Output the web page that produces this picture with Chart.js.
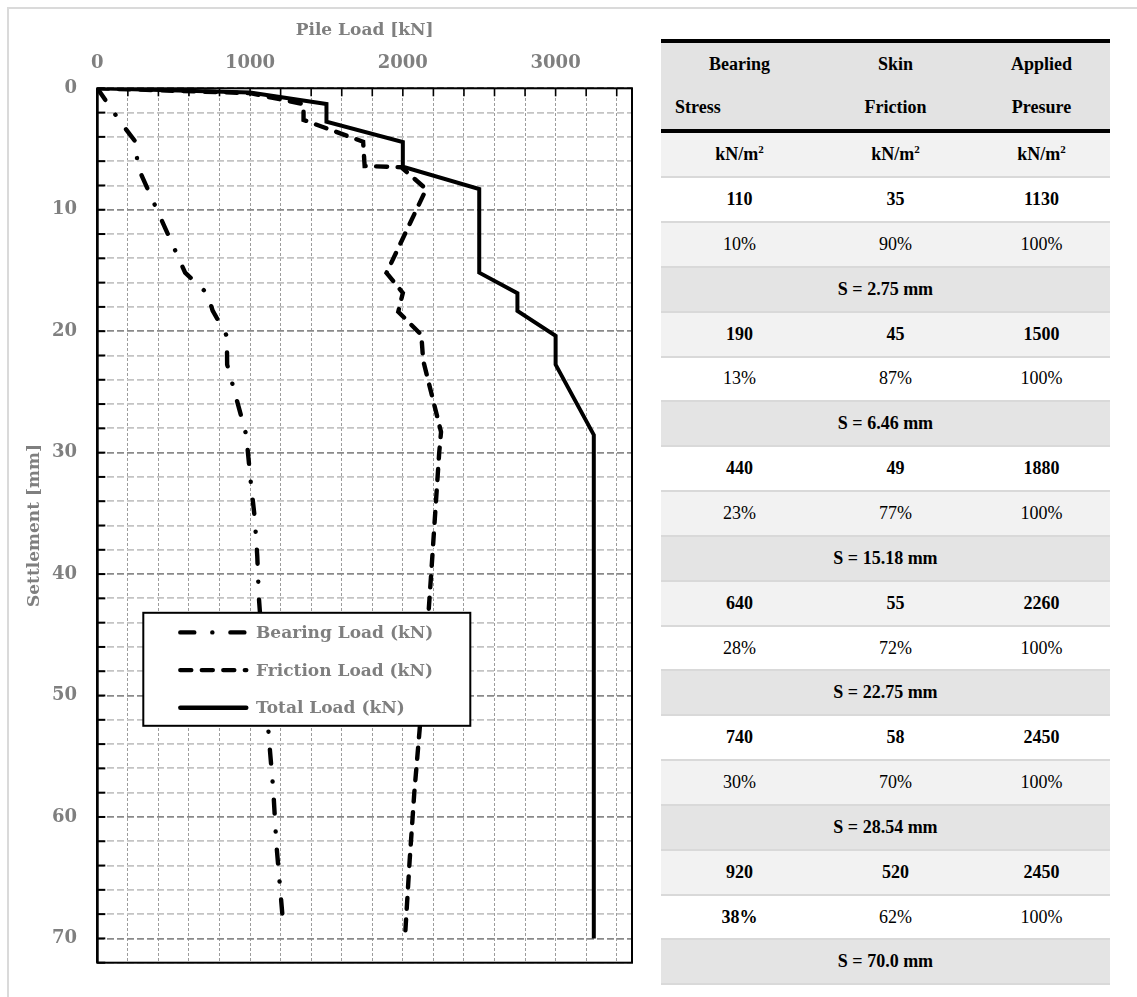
<!DOCTYPE html>
<html>
<head>
<meta charset="utf-8">
<title>Pile Load vs Settlement</title>
<script src="https://cdn.jsdelivr.net/npm/chart.js@4.4.1/dist/chart.umd.min.js"></script>
<style>
    html, body { margin: 0; padding: 0; background: #ffffff; }
    body { position: relative; width: 1137px; height: 997px; overflow: hidden; }
    #frame { position: absolute; left: 7px; top: 7px; width: 1130px; height: 990px; box-sizing: border-box;
             border-top: 2px solid #dadada; border-left: 2px solid #dadada; }
    #chartWrap { position: absolute; left: 0; top: 0; width: 660px; height: 997px; }
    #pileChart { display: block; }
    #loadTable { position: absolute; left: 661px; top: 39.3px; width: 449px;
                 font-family: 'Liberation Serif', 'Times New Roman', serif; font-size: 18px; color: #000; }
    .rule { height: 4px; background: #000; }
    .head { background: #e3e3e3; }
    .line { display: flex; align-items: center; height: 43px; font-weight: bold; }
    .row { display: flex; align-items: center; height: 42.85px; border-bottom: 2px solid #d9d9d9; }
    .c0 { width: 157px; text-align: center; }
    .c1 { width: 155px; text-align: center; }
    .c2 { width: 137px; text-align: center; }
    .left { text-align: left; padding-left: 14px; box-sizing: border-box; }
    .span { width: 449px; text-align: center; font-weight: bold; }
    .b { font-weight: bold; }
    sup { font-size: 11px; vertical-align: 7px; line-height: 0; }
</style>
</head>
<body>
<div id="frame"></div>
<div id="chartWrap"><canvas id="pileChart" width="660" height="997"></canvas></div>

<div id="loadTable">
    <div class="rule"></div>
    <div class="head">
        <div class="line"><div class="c0">Bearing</div><div class="c1">Skin</div><div class="c2">Applied</div></div>
        <div class="line"><div class="c0 left">Stress</div><div class="c1">Friction</div><div class="c2">Presure</div></div>
    </div>
    <div class="rule"></div>
    <div id="tableBody"></div>
</div>

<script>
// curve data: load in kN, settlement in mm
const bearingLoad = [0, 150, 250, 265, 330, 575, 720, 755, 848, 850, 975, 1005, 1030, 1047, 1058, 1124, 1152, 1172, 1199, 1218];
const bearingSettlement = [0, 2.75, 4.4, 6.46, 8.3, 15.18, 16.9, 18.3, 20.4, 22.75, 28.54, 32.5, 35.3, 38.5, 42, 53.6, 57.8, 62.2, 66.2, 69];

const frictionLoad = [0, 1000, 1350, 1350, 1740, 1750, 1990, 2153, 1893, 2000, 1970, 2121, 2133, 2250, 2238, 2187, 2168, 2110, 2075, 2045, 2016];
const frictionSettlement = [0, 0.4, 1.3, 2.6, 4.4, 6.4, 6.5, 8.3, 15.2, 16.85, 18.4, 20.3, 22.4, 28.3, 30, 39.7, 43.2, 52.8, 58, 63.5, 69.5];

const totalLoad = [0, 1000, 1500, 1500, 2000, 2000, 2500, 2500, 2750, 2750, 3000, 3000, 3250, 3250];
const totalSettlement = [0, 0.35, 1.3, 2.75, 4.42, 6.46, 8.3, 15.18, 16.88, 18.33, 20.39, 22.75, 28.54, 70];

const loadTicks = [0, 1000, 2000, 3000];
const settlementTicks = [0, 10, 20, 30, 40, 50, 60, 70];

// table data
const bearingStress = [110, 190, 440, 640, 740, 920];
const skinFriction = [35, 45, 49, 55, 58, 520];
const appliedPressure = [1130, 1500, 1880, 2260, 2450, 2450];
const bearingShare = ['10%', '13%', '23%', '28%', '30%', '38%'];
const frictionShare = ['90%', '87%', '77%', '72%', '70%', '62%'];
const appliedShare = ['100%', '100%', '100%', '100%', '100%', '100%'];
const boldShare = [false, false, false, false, false, true];
const settlementSteps = ['2.75', '6.46', '15.18', '22.75', '28.54', '70.0'];

// build the table
const body = document.getElementById('tableBody');
let rowIndex = 0;

function addRow(html, bg) {
    const r = document.createElement('div');
    r.className = 'row';
    r.style.background = bg;
    r.innerHTML = html;
    body.appendChild(r);
    rowIndex++;
}

function stripe() {
    return rowIndex % 2 === 0 ? '#f2f2f2' : '#ffffff';
}

function threeCells(a, b, c, bold) {
    return '<div class="c0' + (bold[0] ? ' b' : '') + '">' + a + '</div>' +
           '<div class="c1' + (bold[1] ? ' b' : '') + '">' + b + '</div>' +
           '<div class="c2' + (bold[2] ? ' b' : '') + '">' + c + '</div>';
}

const unit = 'kN/m<sup>2</sup>';
addRow(threeCells(unit, unit, unit, [true, true, true]), stripe());
for (let i = 0; i < bearingStress.length; i++) {
    addRow(threeCells(bearingStress[i], skinFriction[i], appliedPressure[i], [true, true, true]), stripe());
    addRow(threeCells(bearingShare[i], frictionShare[i], appliedShare[i], [boldShare[i], false, false]), stripe());
    addRow('<div class="span">S = ' + settlementSteps[i] + ' mm</div>', '#e4e4e4');
}

// chart
function toPoints(xs, ys) {
    return xs.map((x, i) => ({ x: x, y: ys[i] }));
}

const grayText = '#7f7f7f';
const serif = "'DejaVu Serif', serif";

// black frame round the plot area plus the short inward tick marks
const plotFrame = {
    id: 'plotFrame',
    beforeDatasetsDraw(chart) {
        const { ctx, chartArea: a, scales } = chart;
        ctx.save();
        ctx.strokeStyle = '#000';
        ctx.lineWidth = 2;
        scales.y.ticks.forEach(t => {
            const y = scales.y.getPixelForValue(t.value);
            ctx.beginPath();
            ctx.moveTo(a.left, y);
            ctx.lineTo(a.left + 8, y);
            ctx.stroke();
        });
        ctx.lineWidth = 1.6;
        scales.x.ticks.forEach(t => {
            const x = scales.x.getPixelForValue(t.value);
            ctx.beginPath();
            ctx.moveTo(x, a.top);
            ctx.lineTo(x, a.top + 8);
            ctx.stroke();
        });
        ctx.lineWidth = 2;
        ctx.strokeRect(a.left, a.top, a.right - a.left, a.bottom - a.top);
        ctx.lineWidth = 2.6;
        ctx.beginPath();
        ctx.moveTo(a.left, a.top);
        ctx.lineTo(a.left, a.bottom);
        ctx.stroke();
        ctx.restore();
    }
};

// boxed legend sitting inside the plot
const boxLegend = {
    id: 'boxLegend',
    afterDatasetsDraw(chart) {
        const { ctx, chartArea: a } = chart;
        const bx = a.left + 46, by = a.top + 524.5, bw = 327, bh = 113;
        ctx.save();
        ctx.fillStyle = '#ffffff';
        ctx.fillRect(bx, by, bw, bh);
        ctx.lineWidth = 2;
        ctx.strokeStyle = '#000';
        ctx.strokeRect(bx, by, bw, bh);
        chart.data.datasets.forEach((ds, i) => {
            const y = by + 19.6 + i * 37.7;
            ctx.setLineDash(ds.borderDash || []);
            ctx.lineCap = 'round';
            ctx.lineWidth = 4.4;
            ctx.strokeStyle = ds.borderColor;
            ctx.beginPath();
            ctx.moveTo(bx + 37, y);
            ctx.lineTo(bx + 103, y);
            ctx.stroke();
            ctx.setLineDash([]);
            ctx.fillStyle = grayText;
            ctx.font = "bold 17px 'DejaVu Serif'";
            ctx.textBaseline = 'middle';
            ctx.fillText(ds.label, bx + 112.7, y + 1);
        });
        ctx.restore();
    }
};

new Chart(document.getElementById('pileChart'), {
    type: 'line',
    data: {
        datasets: [{
            label: 'Bearing Load (kN)',
            data: toPoints(bearingLoad, bearingSettlement),
            borderColor: '#000000',
            borderWidth: 4.4,
            borderDash: [14, 18, 0.1, 18],
            borderCapStyle: 'round',
            pointRadius: 0,
            pointHoverRadius: 0,
            fill: false,
            tension: 0
        }, {
            label: 'Friction Load (kN)',
            data: toPoints(frictionLoad, frictionSettlement),
            borderColor: '#000000',
            borderWidth: 4.4,
            borderDash: [11, 10.5],
            borderCapStyle: 'round',
            pointRadius: 0,
            pointHoverRadius: 0,
            fill: false,
            tension: 0
        }, {
            label: 'Total Load (kN)',
            data: toPoints(totalLoad, totalSettlement),
            borderColor: '#000000',
            borderWidth: 4,
            borderJoinStyle: 'miter',
            pointRadius: 0,
            pointHoverRadius: 0,
            fill: false,
            tension: 0
        }]
    },
    options: {
        responsive: false,
        animation: false,
        devicePixelRatio: 1,
        layout: {
            padding: { left: 10, top: 10, right: 28, bottom: 34.3 }
        },
        plugins: {
            legend: { display: false },
            tooltip: { enabled: false }
        },
        scales: {
            x: {
                type: 'linear',
                position: 'top',
                min: 0,
                max: 3500,
                ticks: {
                    stepSize: 200,
                    includeBounds: false,
                    autoSkip: false,
                    maxRotation: 0,
                    padding: 14.5,
                    color: grayText,
                    font: { family: serif, size: 18, weight: 'bold' },
                    callback: v => loadTicks.includes(v) ? v : ''
                },
                grid: { color: '#9c9c9c', lineWidth: 1, drawTicks: false },
                border: { display: false, dash: [3, 2] },
                title: {
                    display: true,
                    text: 'Pile Load [kN]',
                    color: grayText,
                    font: { family: serif, size: 17, weight: 'bold' },
                    padding: { top: 10.8, bottom: 0 }
                },
                afterFit: s => { s.height = 78.3; }
            },
            y: {
                type: 'linear',
                position: 'left',
                reverse: true,
                min: 0,
                max: 72,
                ticks: {
                    stepSize: 2,
                    autoSkip: false,
                    padding: 20.3,
                    color: grayText,
                    font: { family: serif, size: 18, weight: 'bold' },
                    callback: v => settlementTicks.includes(v) ? v : ''
                },
                grid: {
                    color: c => (c.tick && c.tick.value % 10 === 0) ? '#8a8a8a' : '#c4c4c4',
                    lineWidth: 1.8,
                    drawTicks: false
                },
                border: { display: false, dash: [7, 3] },
                title: {
                    display: true,
                    text: 'Settlement [mm]',
                    color: grayText,
                    font: { family: serif, size: 17, weight: 'bold' },
                    padding: { top: 14.8, bottom: 0 }
                },
                afterFit: s => { s.width = 87.3; }
            }
        }
    },
    plugins: [plotFrame, boxLegend]
});
</script>
</body>
</html>
